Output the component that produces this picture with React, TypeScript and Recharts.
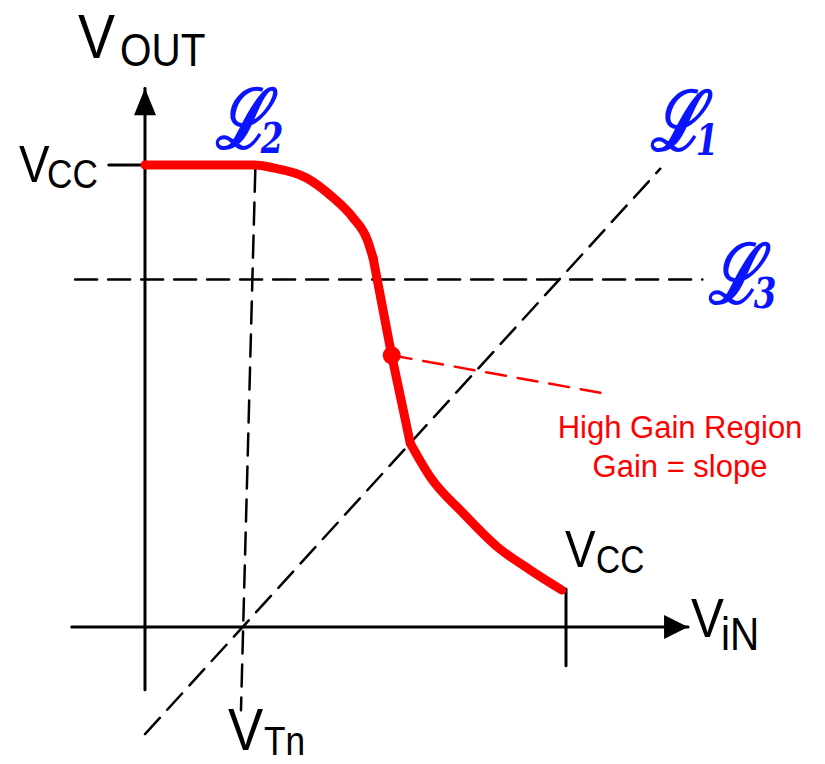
import React from "react";
import { ComposedChart, Line, Scatter, XAxis, YAxis, Customized } from "recharts";

// transfer curve, volts (Vin -> Vout)
const vin = [0, 1.3, 1.52, 1.92, 2.23, 2.47, 2.64, 2.71, 2.93, 3.15, 3.39, 3.78, 4.18, 4.57, 4.95];
const vout = [5, 5, 4.97, 4.86, 4.65, 4.43, 4.19, 3.99, 2.94, 1.99, 1.62, 1.23, 0.87, 0.62, 0.4];

const VCC = 5;
const VTN = 1.16;

const gainPoint = [{ x: 2.93, y: 2.94 }];
const gainLeader = [{ x: 2.93, y: 2.94 }, { x: 5.5, y: 2.52 }];

// guide lines L1 (Vout = Vin - VTn), L2 (near Vin = VTn), L3 (horizontal)
const line1 = [{ x: 0, y: -VTN }, { x: 6.12, y: 6.12 - VTN }];
const line2 = [{ x: 1.31, y: 4.95 }, { x: 1.14, y: -0.9 }];
const line3 = [{ x: -0.83, y: 3.76 }, { x: 6.62, y: 3.76 }];

const xAxisLine = [{ x: -0.87, y: 0 }, { x: 6.45, y: 0 }];
const yAxisLine = [{ x: 0, y: -0.68 }, { x: 0, y: 5.83 }];
const vccTickY = [{ x: -0.43, y: VCC }, { x: 0, y: VCC }];
const vccTickX = [{ x: VCC, y: 0.41 }, { x: VCC, y: -0.42 }];
const xArrow = [{ x: 6.45, y: 0 }];
const yArrow = [{ x: 0, y: 5.83 }];

const curve = vin.map((v, i) => ({ x: v, y: vout[i] }));
const curveTop = curve.slice(0, 8);
const curveMid = curve.slice(7, 10);
const curveLow = curve.slice(9);

const SANS = "'Liberation Sans', Arial, sans-serif";
const SCRIPT = "'DejaVu Serif', serif";
const BLUE = "#0a14ff";
const RED = "#ff0000";

const Txt = ({ x, y, size, sx = 0.88, sy = 1, fill = "#000", anchor = "start", family = SANS, bold = false, italic = false, children }: any) => (
  <text
    transform={`translate(${x},${y}) scale(${sx},${sy})`}
    fontSize={size}
    fill={fill}
    fontFamily={family}
    fontWeight={bold ? "bold" : "normal"}
    fontStyle={italic ? "italic" : "normal"}
    textAnchor={anchor}
  >
    {children}
  </text>
);

// script L with subscript, one text element
const Script = ({ x, y, sub }: any) => (
  <Txt x={x} y={y} size={72} sx={0.88} sy={1.15} family={SCRIPT} fill={BLUE} bold italic>
    ℒ
    <tspan x={52} y={4.5} fontSize={37}>{sub}</tspan>
  </Txt>
);

const Labels = () => (
  <g>
    <Txt x={78} y={58} size={63}>V</Txt>
    <Txt x={120} y={66} size={46}>OUT</Txt>

    <Txt x={19} y={182} size={52}>V</Txt>
    <Txt x={47} y={188} size={40}>CC</Txt>

    <Txt x={565} y={567} size={52}>V</Txt>
    <Txt x={596} y={573} size={38}>CC</Txt>

    <Txt x={691} y={637} size={56}>V</Txt>
    <Txt x={721} y={650} size={46}>iN</Txt>

    <Txt x={228} y={750} size={60}>V</Txt>
    <Txt x={264} y={755} size={40}>Tn</Txt>

    <Script x={215} y={148} sub="2" />
    <Script x={650} y={150} sub="1" />
    <Script x={708} y={303} sub="3" />

    <Txt x={680} y={438} size={31} sx={1} fill={RED} anchor="middle">High Gain Region</Txt>
    <Txt x={680} y={477} size={31} sx={1} fill={RED} anchor="middle">Gain = slope</Txt>
  </g>
);

const UpArrow = ({ cx, cy }: any) => (
  <polygon points={`${cx},${cy} ${cx - 11},${cy + 27} ${cx + 11},${cy + 27}`} fill="#000" />
);
const RightArrow = ({ cx, cy }: any) => (
  <polygon points={`${cx},${cy} ${cx - 24},${cy - 12} ${cx - 24},${cy + 12}`} fill="#000" />
);
const Dot = ({ cx, cy }: any) => <circle cx={cx} cy={cy} r={9} fill={RED} />;

const seg = (key: string, data: any[], stroke: string, width: number, dash?: string, type: any = "linear") => (
  <Line
    key={key}
    data={data}
    dataKey="y"
    type={type}
    stroke={stroke}
    strokeWidth={width}
    strokeDasharray={dash}
    strokeLinecap="round"
    strokeLinejoin="round"
    dot={false}
    activeDot={false}
    isAnimationActive={false}
  />
);

export default function App() {
  return (
    <div style={{ position: "absolute", left: 0, top: 0, background: "#fff" }}>
      <ComposedChart width={825} height={764} margin={{ top: 0, right: 0, bottom: 0, left: 0 }}>
        <XAxis dataKey="x" type="number" domain={[-1.722, 8.076]} allowDataOverflow hide />
        <YAxis dataKey="y" type="number" domain={[-1.483, 6.786]} allowDataOverflow hide />
        {seg("l3", line3, "#000", 2.5, "22 11")}
        {seg("l1", line1, "#000", 2.5, "22 11")}
        {seg("l2", line2, "#000", 2.5, "22 11")}
        {seg("lead", gainLeader, RED, 2.5, "20 12")}
        {seg("xa", xAxisLine, "#000", 3)}
        {seg("ya", yAxisLine, "#000", 3)}
        {seg("ty", vccTickY, "#000", 3)}
        {seg("tx", vccTickX, "#000", 3)}
        {seg("ct", curveTop, RED, 9, undefined, "monotone")}
        {seg("cm", curveMid, RED, 9)}
        {seg("cl", curveLow, RED, 9, undefined, "monotone")}
        <Scatter data={gainPoint} shape={Dot} isAnimationActive={false} />
        <Scatter data={xArrow} shape={RightArrow} isAnimationActive={false} />
        <Scatter data={yArrow} shape={UpArrow} isAnimationActive={false} />
        <Customized component={Labels} />
      </ComposedChart>
    </div>
  );
}
